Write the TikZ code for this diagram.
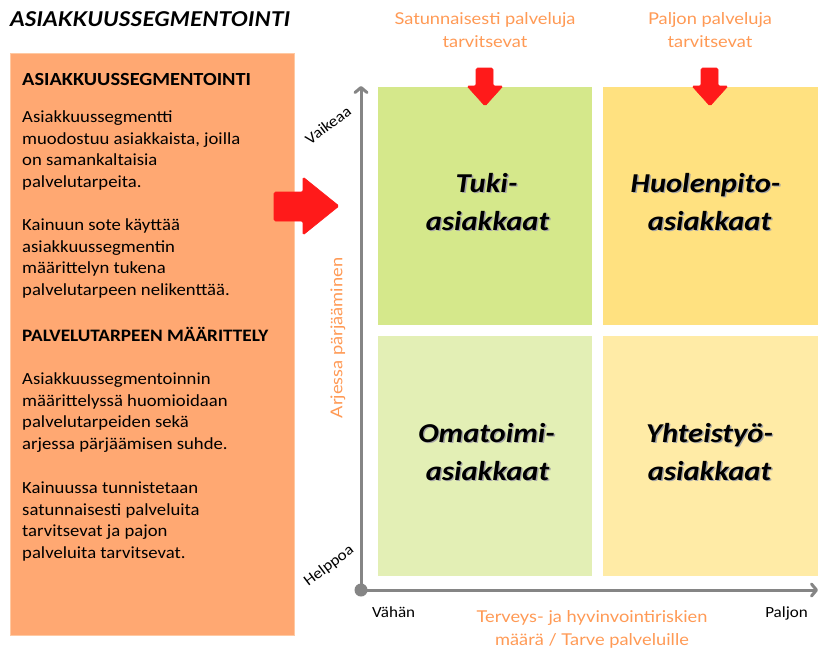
\documentclass[tikz,border=0pt]{standalone}
\usepackage{fontspec}
\setmainfont{Carlito}[FakeStretch=1.1]
\newfontfamily\latofont{Lato}[FakeStretch=1.12]
\newfontfamily\quadfont{Carlito}[FakeStretch=1.12]
\usetikzlibrary{arrows.meta}
\definecolor{boxorange}{HTML}{FFA872}
\definecolor{boxedge}{HTML}{FFC9A2}
\definecolor{labelorange}{HTML}{FF9A55}
\definecolor{qtl}{HTML}{D5E88B}
\definecolor{qtr}{HTML}{FFE180}
\definecolor{qbl}{HTML}{E3EFB5}
\definecolor{qbr}{HTML}{FFEBA6}
\definecolor{axisgray}{HTML}{858585}
\definecolor{arrowred}{HTML}{FF1A1A}
\newcommand{\shadowtext}[1]{\rlap{\kern1.4pt\raisebox{-1.3pt}{\textcolor{black!35}{#1}}}#1}
\tikzset{
  txt/.style={inner sep=0pt, anchor=base west, align=left, font=\fontsize{17}{21.5}\selectfont},
  hdr/.style={inner sep=0pt, anchor=base west, font=\fontsize{18.5}{21}\selectfont\bfseries},
  olabel/.style={inner sep=0pt, anchor=base, align=center, text=labelorange, font=\latofont\fontsize{16.3}{22.5}\selectfont},
  quad/.style={inner sep=0pt, anchor=base, font=\quadfont\fontsize{27.3}{38}\selectfont\bfseries\itshape},
  tick/.style={inner sep=0pt, font=\fontsize{15.5}{18}\selectfont},
  redarrow/.style={fill=arrowred, draw=arrowred, line width=0.6pt, rounded corners=1.5pt},
  axis/.style={draw=axisgray, line width=3pt, -{Straight Barb[length=5pt,width=12pt,line width=3pt,round]}}
}
\begin{document}
\begin{tikzpicture}[x=1pt,y=-1pt]
\useasboundingbox (0,0) rectangle (818,651);
\fill[white] (0,0) rectangle (818,651);
% title
\node[inner sep=0pt, anchor=base west, font=\latofont\fontsize{20.4}{24}\selectfont\bfseries\itshape] (title) at (10,26) {ASIAKKUUSSEGMENTOINTI};
% orange box
\node[fill=boxorange, draw=boxedge, line width=0.8pt, minimum width=284pt, minimum height=582pt, inner sep=0pt, anchor=north west] (panel) at (10,53) {};
\node[hdr] (h1) at (22,85) {ASIAKKUUSSEGMENTOINTI};
\node[txt] (p1) at (22,187) {Asiakkuussegmentti\\muodostuu asiakkaista, joilla\\on samankaltaisia\\palvelutarpeita.};
\node[txt] (p2) at (22,295) {Kainuun sote käyttää\\asiakkuussegmentin\\määrittelyn tukena\\palvelutarpeen nelikenttää.};
\node[hdr, font=\fontsize{17.5}{20}\selectfont\bfseries] (h2) at (22,341) {PALVELUTARPEEN MÄÄRITTELY};
\node[txt] (p3) at (22,449) {Asiakkuussegmentoinnin\\määrittelyssä huomioidaan\\palvelutarpeiden sekä\\arjessa pärjäämisen suhde.};
\node[txt] (p4) at (22,558) {Kainuussa tunnistetaan\\satunnaisesti palveluita\\tarvitsevat ja pajon\\palveluita tarvitsevat.};
% quadrants
\node[fill=qtl, inner sep=0pt, minimum width=214pt, minimum height=238pt, anchor=north west] (qa) at (378,87) {};
\node[fill=qtr, inner sep=0pt, minimum width=215pt, minimum height=238pt, anchor=north west] (qb) at (603,87) {};
\node[fill=qbl, inner sep=0pt, minimum width=214pt, minimum height=240pt, anchor=north west] (qc) at (378,336) {};
\node[fill=qbr, inner sep=0pt, minimum width=215pt, minimum height=240pt, anchor=north west] (qd) at (603,336) {};
% quadrant labels
\node[quad] (la1) at (486.5,192) {\shadowtext{Tuki-}};
\node[quad] (la2) at (487.5,230) {\shadowtext{asiakkaat}};
\node[quad] (lb1) at (705.5,192) {\shadowtext{Huolenpito-}};
\node[quad] (lb2) at (709.5,230) {\shadowtext{asiakkaat}};
\node[quad] (lc1) at (486.5,442) {\shadowtext{Omatoimi-}};
\node[quad] (lc2) at (487.5,480) {\shadowtext{asiakkaat}};
\node[quad] (ld1) at (709.5,442) {\shadowtext{Yhteistyö-}};
\node[quad] (ld2) at (709.5,480) {\shadowtext{asiakkaat}};
% axes
\coordinate (origin) at (361,590);
\coordinate (ytop) at (361,86);
\coordinate (xend) at (818,590);
\draw[axis] (origin) -- (ytop);
\draw[axis] (origin) -- (xend);
\fill[axisgray] (origin) circle (6.5pt);
% axis labels
\node[tick, rotate=37] (vaik) at (328,125) {Vaikeaa};
\node[tick, rotate=37] (help) at (329,566) {Helppoa};
\node[tick, anchor=base west] (vah) at (372,617) {Vähän};
\node[tick, anchor=base east] (paljon) at (808,617) {Paljon};
\node[olabel, rotate=90, anchor=center] (arj) at (338,338) {Arjessa pärjääminen};
\node[olabel] (ter) at (592,645) {Terveys- ja hyvinvointiriskien\\määrä / Tarve palveluille};
\node[olabel] (sat) at (485,47) {Satunnaisesti palveluja\\tarvitsevat};
\node[olabel] (pal) at (710,47) {Paljon palveluja\\tarvitsevat};
% red arrows
\path[redarrow] (274,192) -- (303,192) -- (303,177) -- (339,206) -- (303,235) -- (303,221) -- (274,221) -- cycle;
\path[redarrow] (476,68) -- (493,68) -- (493,86) -- (503,86) -- (485,106) -- (467,86) -- (476,86) -- cycle;
\path[redarrow] (701,68) -- (718,68) -- (718,86) -- (728,86) -- (710,106) -- (692,86) -- (701,86) -- cycle;
\end{tikzpicture}
\end{document}
